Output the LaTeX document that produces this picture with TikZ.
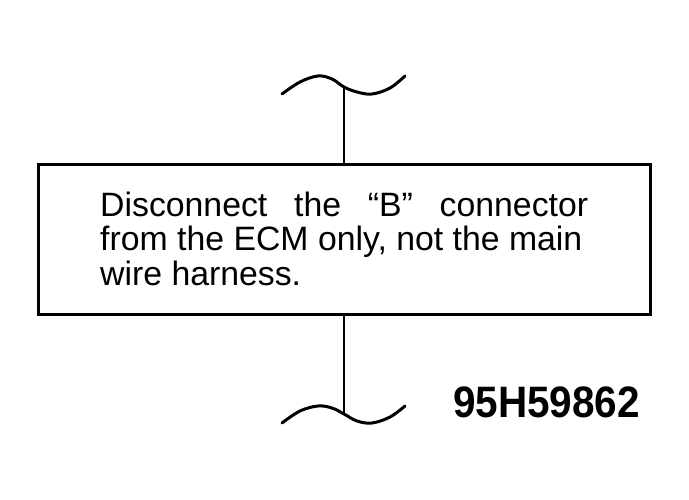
\documentclass[tikz,border=0pt]{standalone}
\usepackage{fontspec}
\setmainfont{Liberation Sans}
\begin{document}
\begin{tikzpicture}[x=1pt,y=-1pt,
  frame/.style={draw=black,line width=3pt,minimum width=612pt,minimum height=149pt,inner sep=0pt},
  wire/.style={draw=black,line width=2.6pt},
  brk/.style={draw=black,line width=3pt,line cap=round},
  body/.style={anchor=base west,inner sep=0pt,font=\fontsize{33.8}{34}\selectfont},
  code/.style={anchor=base west,inner sep=0pt,font=\fontsize{44}{44}\bfseries\selectfont}]
\useasboundingbox (0,0) rectangle (689,500);
\node[frame] (box) at (344,239.5) {};
\node[body] (l1) at (100,217) {\makebox[488pt][s]{Disconnect the “B” connector}};
\node[body] (l2) at (100,251) {from the ECM only, not the main};
\node[body] (l3) at (100,285) {wire harness.};
\node[code,xscale=0.92] (id) at (453,417) {95H59862};
\coordinate (tc) at (344,87);
\coordinate (bc) at (344,414);
\draw[brk] plot[smooth,tension=0.6] coordinates {(282,94) (300,82) (318,76) (332,79) (344,87) (357,92) (372,94) (390,88) (405,76)};
\draw[brk] plot[smooth,tension=0.6] coordinates {(282,423) (300,411) (318,406) (332,408) (344,414) (357,421) (372,423) (390,417) (405,406)};
\draw[wire] (box.north) -- (tc);
\draw[wire] (box.south) -- (bc);
\end{tikzpicture}
\end{document}
